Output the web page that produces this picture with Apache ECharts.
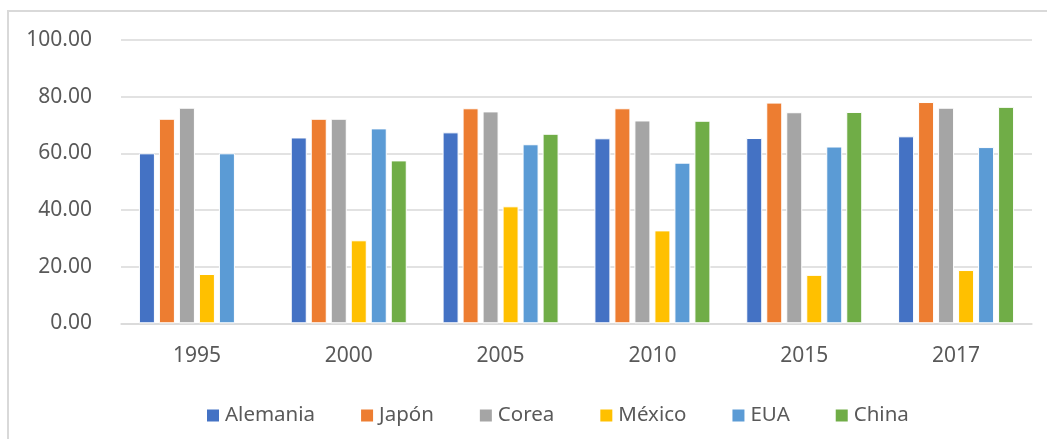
<!DOCTYPE html>
<html>
<head>
<meta charset="utf-8">
<script src="https://cdn.jsdelivr.net/npm/echarts@6/dist/echarts.min.js"></script>
<style>
html,body{margin:0;padding:0;background:#fff;}
#chart{width:1047px;height:439px;}
</style>
</head>
<body>
<div id="chart"></div>
<script>
const categories = ['1995','2000','2005','2010','2015','2017'];
const alemania = [60.0, 65.6, 67.4, 65.3, 65.4, 66.0];
const japon    = [72.2, 72.2, 75.9, 75.9, 77.9, 78.1];
const corea    = [76.1, 72.2, 74.8, 71.6, 74.5, 76.1];
const mexico   = [17.4, 29.3, 41.3, 32.8, 17.1, 18.8];
const eua      = [60.0, 68.8, 63.2, 56.7, 62.4, 62.2];
const china    = [null, 57.5, 66.9, 71.5, 74.6, 76.4];
const seriesNames = ['Alemania','Japón','Corea','México','EUA','China'];
const seriesData = [alemania, japon, corea, mexico, eua, china];
const colors = ['#4472C4','#ED7D31','#A5A5A5','#FFC000','#5B9BD5','#70AD47'];

const chart = echarts.init(document.getElementById('chart'));
const font = '"Noto Sans", "Open Sans", sans-serif';
chart.setOption({
  animation: false,
  backgroundColor: '#ffffff',
  color: colors,
  textStyle: { fontFamily: font },
  graphic: [{
    type: 'rect',
    shape: { x: 8, y: 11, width: 1100, height: 500 },
    style: { fill: 'none', stroke: '#d9d9d9', lineWidth: 2 },
    silent: true
  }],
  legend: {
    left: 205,
    top: 405,
    padding: 0,
    itemWidth: 14,
    itemHeight: 14,
    itemGap: 44,
    icon: 'rect',
    textStyle: { fontSize: 20.5, color: '#595959', fontFamily: font },
    data: seriesNames
  },
  grid: { left: 121, right: 15, top: 40, bottom: 115.7, containLabel: false },
  xAxis: {
    type: 'category',
    data: categories,
    axisLine: { lineStyle: { color: '#d9d9d9', width: 1.5 } },
    axisTick: { show: false },
    axisLabel: { fontSize: 21, color: '#595959', margin: 22, fontFamily: font }
  },
  yAxis: {
    type: 'value',
    min: 0, max: 100, interval: 20,
    axisLine: { show: false },
    axisTick: { show: false },
    splitLine: { lineStyle: { color: '#d9d9d9', width: 1.5 } },
    axisLabel: { fontSize: 21, color: '#595959', margin: 29, fontFamily: font,
      formatter: v => v.toFixed(2) }
  },
  series: seriesNames.map((n, i) => ({
    name: n,
    type: 'bar',
    data: seriesData[i],
    barWidth: 16,
    barGap: '25%',
    itemStyle: { color: colors[i], borderColor: '#ffffff', borderWidth: 1 }
  }))
});
</script>
</body>
</html>
